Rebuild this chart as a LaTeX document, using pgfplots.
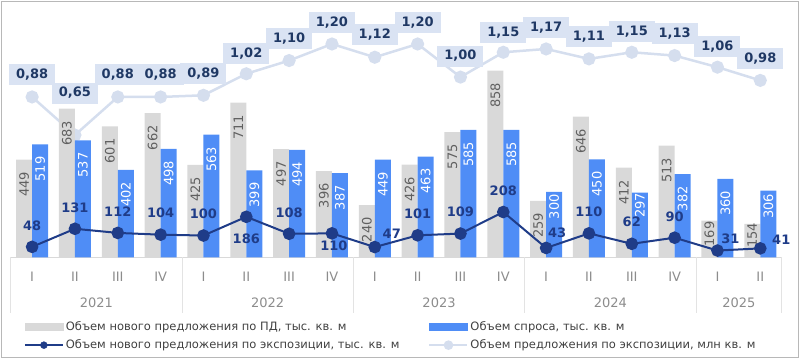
\documentclass[border=0pt]{standalone}
\usepackage{fontspec}
\setmainfont{DejaVu Sans}
\usepackage{pgfplots}
\usepackage{pgfplotstable}
\pgfplotsset{compat=1.18}
\definecolor{barGray}{HTML}{D9D9D9}
\definecolor{barBlue}{HTML}{4F8DF6}
\definecolor{navy}{HTML}{1F3C88}
\definecolor{lightLine}{HTML}{D5DEEE}
\definecolor{lblBox}{HTML}{DAE3F3}
\definecolor{lblNavy}{HTML}{1F3864}
\definecolor{tickGray}{HTML}{8C8C8C}
\definecolor{sepGray}{HTML}{E3E3E3}
\definecolor{barTxt}{HTML}{606060}

\pgfplotstableread{
x gray gg blue bg
0 449 12 519 12
1 683 12 537 12
2 601 12 402 12
3 662 12 498 12
4 425 12 563 12
5 711 12 399 12
6 497 12 494 12
7 396 12 387 12
8 240 12 449 12
9 426 12 463 12
10 575 12 585 12
11 858 12 585 12
12 259 12 300 2
13 646 12 450 12
14 412 12 297 0
15 513 12 382 12
16 169 1 360 12
17 154 -1 306 3
}\bardata

\pgfplotstableread{
x y xs ys
0 48 0 21.5
1 131 0 21.5
2 112 0 21.5
3 104 0 21.5
4 100 0 21.5
5 186 0 -22
6 108 0 21.5
7 110 2 -12.5
8 47 17 13
9 101 0 21.5
10 109 0 21.5
11 208 0 21.5
12 43 11 15
13 110 0 21.5
14 62 0 22
15 90 0 21
16 31 13 12
17 41 21 9
}\expnew

\pgfplotstableread{
x y lbl dy
0 0.88 0,88 22
1 0.65 0,65 42
2 0.88 0,88 22
3 0.88 0,88 22
4 0.89 0,89 22
5 1.02 1,02 20
6 1.10 1,10 22
7 1.20 1,20 21
8 1.12 1,12 23
9 1.20 1,20 21
10 1.00 1,00 21
11 1.15 1,15 20
12 1.17 1,17 21
13 1.11 1,11 22
14 1.15 1,15 21
15 1.13 1,13 22
16 1.06 1,06 21
17 0.98 0,98 22
}\exptotal

\begin{document}
\begin{tikzpicture}
\useasboundingbox (-10.7pt,-101.7pt) rectangle (789.3pt,257.3pt);
\begin{axis}[
  scale only axis, width=771pt, height=252.3pt,
  at={(0pt,0pt)}, anchor=south west,
  xmin=-0.5, xmax=17.5, ymin=-0.0888, ymax=1.4356,
  clip=false,
  hide x axis, hide y axis,
  legend columns=2,
  legend cell align=left,
  legend style={at={(0,0)}, anchor=north west, xshift=13pt, yshift=-62pt,
    draw=none, fill=none, inner sep=0pt,
    font=\fontsize{11.5}{13}\selectfont, text=black!75,
    row sep=4pt,
    /tikz/every even column/.append style={column sep=27pt}},
]
\addlegendimage{legend image code/.code={\fill[barGray] (0pt,-3.5pt) rectangle (38pt,3.5pt);}}
\addlegendentry{Объем нового предложения по ПД, тыс. кв. м}
\addlegendimage{legend image code/.code={\fill[barBlue] (0pt,-3.5pt) rectangle (38pt,3.5pt);}}
\addlegendentry{Объем спроса, тыс. кв. м}
\addlegendimage{legend image code/.code={\draw[navy, line width=2pt] (0pt,0pt) -- (38pt,0pt); \fill[navy] (19pt,0pt) circle (3.5pt);}}
\addlegendentry{Объем нового предложения по экспозиции, тыс. кв. м}
\addplot[sharp plot, color=lightLine, line width=2.5pt, mark=*, mark size=5.3pt, mark options={fill=lightLine, draw=lightLine},
  legend image code/.code={\draw[lightLine, line width=2pt] (0pt,0pt) -- (38pt,0pt); \fill[lightLine] (19pt,0pt) circle (3.5pt);},
  point meta=explicit symbolic,
  visualization depends on={\thisrow{dy} \as \dy},
  nodes near coords={\pgfplotspointmeta},
  every node near coord/.append style={anchor=center, yshift=\dy pt, fill=lblBox, inner xsep=7pt, inner ysep=0pt, minimum height=21pt, font=\fontsize{13}{15}\selectfont\bfseries, text=lblNavy}]
  table[x=x, y=y, meta=lbl] {\exptotal};
\addlegendentry{Объем предложения по экспозиции, млн кв. м}
\end{axis}
\begin{axis}[
  scale only axis, width=771pt, height=252.3pt,
  at={(0pt,0pt)}, anchor=south west,
  xmin=-0.5, xmax=17.5, ymin=0, ymax=1159,
  clip=false,
  hide y axis,
  axis x line*=bottom,
  x axis line style={-, draw=black!15, line width=0.8pt},
  xtick={0,...,17},
  xticklabels={I,II,III,IV,I,II,III,IV,I,II,III,IV,I,II,III,IV,I,II},
  major tick length=0pt,
  xticklabel style={font=\fontsize{13}{15}\selectfont, text=tickGray, anchor=center, yshift=-19.7pt},
  extra x ticks={-0.5,3.5,7.5,11.5,15.5,17.5},
  extra x tick labels={},
  extra x tick style={major tick length=55.7pt, tick align=outside, tick style={draw=sepGray, line width=1pt}},
]
\addplot[ybar, bar width=16pt, bar shift=-8pt, fill=barGray, draw=none,
  point meta=explicit symbolic,
  visualization depends on={\thisrow{gg} \as \gap},
  nodes near coords={\pgfplotspointmeta},
  every node near coord/.append style={xshift=-8pt, yshift=-\gap pt, rotate=90, anchor=east, inner sep=0pt, font=\fontsize{13}{15}\selectfont, text=barTxt}]
  table[x=x, y=gray, meta=gray] {\bardata};
\addplot[ybar, bar width=16pt, bar shift=8pt, fill=barBlue, draw=none,
  point meta=explicit symbolic,
  visualization depends on={\thisrow{bg} \as \gap},
  nodes near coords={\pgfplotspointmeta},
  every node near coord/.append style={xshift=8pt, yshift=-\gap pt, rotate=90, anchor=east, inner sep=0pt, font=\fontsize{13}{15}\selectfont, text=white}]
  table[x=x, y=blue, meta=blue] {\bardata};
\addplot[sharp plot, color=navy, line width=2pt, mark=*, mark size=5.3pt, mark options={fill=navy, draw=navy},
  point meta=explicit symbolic,
  visualization depends on={\thisrow{xs} \as \xs},
  visualization depends on={\thisrow{ys} \as \ys},
  nodes near coords={\pgfplotspointmeta},
  every node near coord/.append style={anchor=center, xshift=\xs pt, yshift=\ys pt, inner sep=0pt, font=\fontsize{13}{15}\selectfont\bfseries, text=navy}]
  table[x=x, y=y, meta=y] {\expnew};
\node[font=\fontsize{13}{15}\selectfont, text=tickGray, anchor=center] at (axis cs:1.5,0) [yshift=-45.7pt] {2021};
\node[font=\fontsize{13}{15}\selectfont, text=tickGray, anchor=center] at (axis cs:5.5,0) [yshift=-45.7pt] {2022};
\node[font=\fontsize{13}{15}\selectfont, text=tickGray, anchor=center] at (axis cs:9.5,0) [yshift=-45.7pt] {2023};
\node[font=\fontsize{13}{15}\selectfont, text=tickGray, anchor=center] at (axis cs:13.5,0) [yshift=-45.7pt] {2024};
\node[font=\fontsize{13}{15}\selectfont, text=tickGray, anchor=center] at (axis cs:16.5,0) [yshift=-45.7pt] {2025};
\end{axis}
\draw[draw=black!28, line width=1pt] (-9.2pt,-100.2pt) rectangle (787.8pt,255.8pt);
\end{tikzpicture}
\end{document}
